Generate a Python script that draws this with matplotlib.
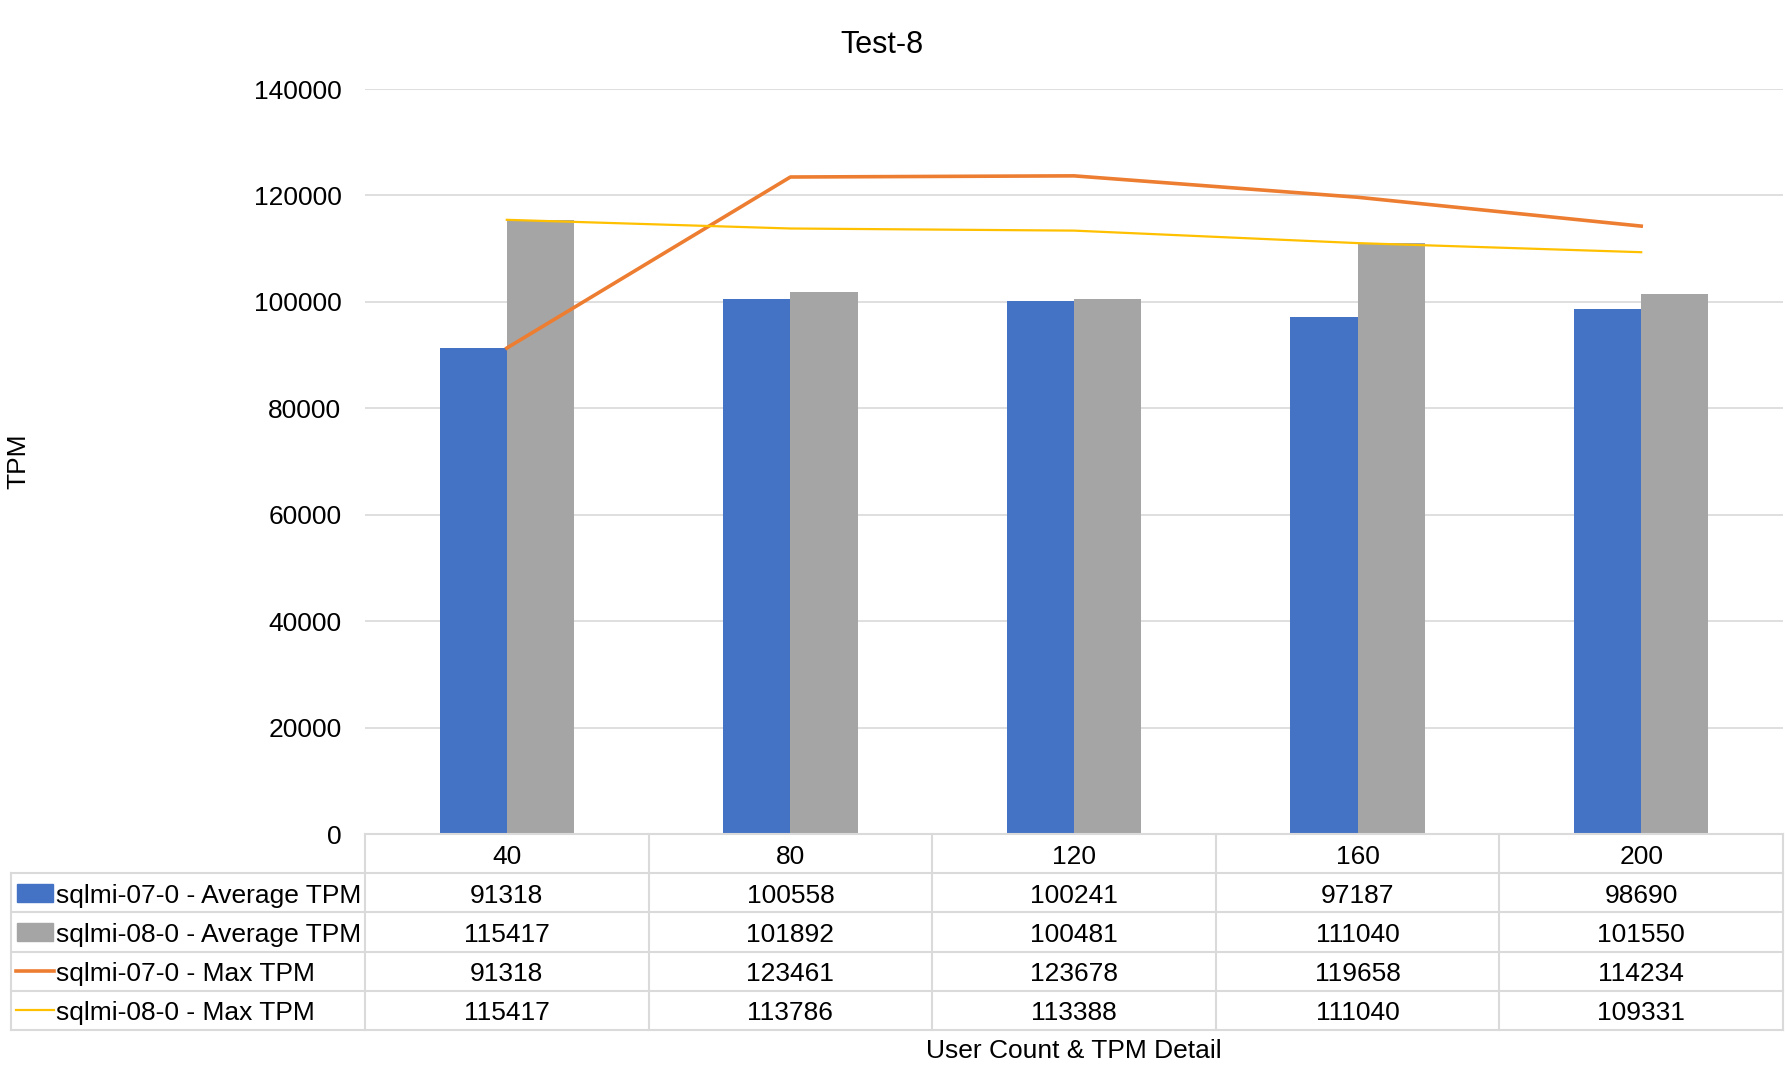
import matplotlib.pyplot as plt
import numpy as np

plt.rcParams['font.family'] = ['Liberation Sans', 'DejaVu Sans']

# Data
users = ["40", "80", "120", "160", "200"]
avg_07 = [91318, 100558, 100241, 97187, 98690]
avg_08 = [115417, 101892, 100481, 111040, 101550]
max_07 = [91318, 123461, 123678, 119658, 114234]
max_08 = [115417, 113786, 113388, 111040, 109331]
series_names = ["sqlmi-07-0 - Average TPM", "sqlmi-08-0 - Average TPM",
                "sqlmi-07-0 - Max TPM", "sqlmi-08-0 - Max TPM"]

blue, gray, orange, yellow = "#4472C4", "#A5A5A5", "#ED7D31", "#FFC000"
grid_c = "#D9D9D9"
fs = 19

W, H = 1785, 1069
fig = plt.figure(figsize=(W / 100, H / 100), dpi=100)

# plot area in pixel coords
left, right, top, bottom = 365, 1783, 89, 834
ax = fig.add_axes([left / W, 1 - bottom / H, (right - left) / W, (bottom - top) / H])

x = np.arange(len(users))
bw = 0.237
ax.bar(x - bw / 2, avg_07, bw, color=blue, zorder=2)
ax.bar(x + bw / 2, avg_08, bw, color=gray, zorder=2)
ax.plot(x, max_07, color=orange, lw=2.6, zorder=3)
ax.plot(x, max_08, color=yellow, lw=1.6, zorder=3)

ax.set_xlim(-0.5, len(users) - 0.5)
ax.set_ylim(0, 140000)
ax.set_yticks(range(0, 140001, 20000))
ax.tick_params(axis='y', length=0, labelsize=fs, pad=17)
ax.set_xticks([])
ax.yaxis.grid(True, color=grid_c, lw=1.2, zorder=0)
for s in ax.spines.values():
    s.set_visible(False)

fig.text(882 / W, 1 - 45 / H, "Test-8", ha='center', va='center', fontsize=22)
fig.text(18 / W, 1 - 461 / H, "TPM", ha='center', va='center', rotation=90, fontsize=fs)
fig.text(1074 / W, 1 - 1051 / H, "User Count & TPM Detail", ha='center', va='center', fontsize=fs)

# data table
t_left, t_bottom = 11, 1030
col_w = (right - left) / len(users)
leg_w = (left - t_left) / col_w
tax = fig.add_axes([t_left / W, 1 - t_bottom / H, (right - t_left) / W, (t_bottom - bottom) / H])
tax.set_xlim(-0.5 - leg_w, len(users) - 0.5)
tax.set_ylim(5, 0)
tax.axis('off')

lx0 = -0.5 - leg_w
tc = "#DADADA"
# horizontal lines
tax.plot([-0.5, len(users) - 0.5], [0, 0], color=tc, lw=1.5, clip_on=False)
for r in range(1, 6):
    tax.plot([lx0, len(users) - 0.5], [r, r], color=tc, lw=1.5, clip_on=False)
# vertical lines
for c in range(len(users) + 1):
    tax.plot([c - 0.5, c - 0.5], [0, 5], color=tc, lw=1.5, clip_on=False)
tax.plot([lx0, lx0], [1, 5], color=tc, lw=1.5, clip_on=False)

for i, u in enumerate(users):
    tax.text(i, 0.58, u, ha='center', va='center', fontsize=fs)

rows = [avg_07, avg_08, max_07, max_08]
colors = [blue, gray, orange, yellow]
px = 1 / col_w  # one pixel in data units
for r, (name, vals, c) in enumerate(zip(series_names, rows, colors)):
    yc = r + 1.5
    ty = yc + 0.07
    if r < 2:
        tax.add_patch(plt.Rectangle((lx0 + 6 * px, yc - 0.23), 36 * px, 0.46, color=c, clip_on=False))
    else:
        tax.plot([lx0 + 5 * px, lx0 + 43 * px], [yc, yc], color=c,
                 lw=2.6 if r == 2 else 1.6, clip_on=False)
    tax.text(lx0 + 45 * px, ty, name, ha='left', va='center', fontsize=fs)
    for i, v in enumerate(vals):
        tax.text(i, ty, str(v), ha='center', va='center', fontsize=fs)

fig.savefig("out.png", dpi=100, facecolor='white')
